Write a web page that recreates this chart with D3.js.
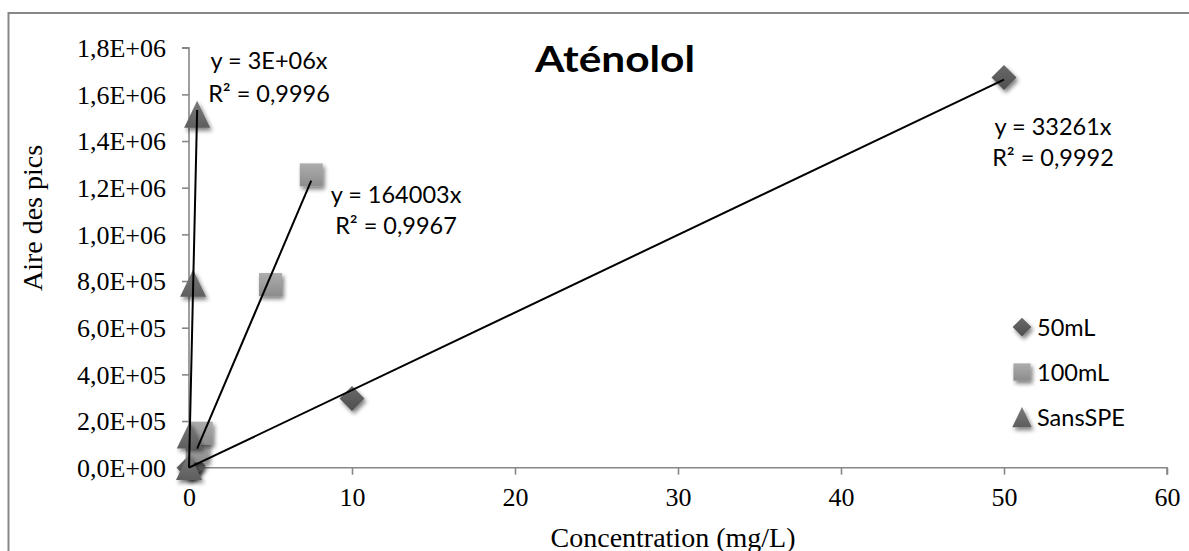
<!DOCTYPE html>
<html>
<head>
<meta charset="utf-8">
<script src="https://cdn.jsdelivr.net/npm/d3@7"></script>
<style>
  html, body { margin: 0; padding: 0; background: #fff; }
  svg { display: block; }
</style>
</head>
<body>
<svg id="chart" width="1189" height="551"></svg>
<script>
// ---- Data ----
const seriesNames = ["50mL", "100mL", "SansSPE"];
const conc50 = [0, 0.1, 0.25, 10, 50];
const area50 = [0, 3000, 8000, 297000, 1672000];
const conc100 = [0.5, 0.75, 5, 7.5];
const area100 = [72000, 148000, 785000, 1255000];
const concSans = [0, 0.05, 0.25, 0.5];
const areaSans = [5000, 140000, 790000, 1515000];
const trendSlopes = [33261, 164003, 3066000];
const trendEquations = ["y = 33261x", "y = 164003x", "y = 3E+06x"];
const trendR2 = ["R² = 0,9992", "R² = 0,9967", "R² = 0,9996"];
const xTicks = [0, 10, 20, 30, 40, 50, 60];
const yTicks = [0, 200000, 400000, 600000, 800000, 1000000, 1200000, 1400000, 1600000, 1800000];
const yTickLabels = ["0,0E+00", "2,0E+05", "4,0E+05", "6,0E+05", "8,0E+05", "1,0E+06", "1,2E+06", "1,4E+06", "1,6E+06", "1,8E+06"];
const chartTitle = "Aténolol";
const xTitle = "Concentration (mg/L)";
const yTitle = "Aire des pics";

// ---- Layout ----
const svg = d3.select("#chart");
const x = d3.scaleLinear().domain([0, 60]).range([189, 1167]);
const y = d3.scaleLinear().domain([0, 1800000]).range([467.7, 47.7]);
const serif = "'Liberation Serif', 'Times New Roman', serif";
const sans = "Lato, 'Open Sans', sans-serif";
const axisColor = "#878787";

const defs = svg.append("defs");
const f = defs.append("filter").attr("id", "shadow").attr("x", "-50%").attr("y", "-50%").attr("width", "200%").attr("height", "200%");
f.append("feGaussianBlur").attr("in", "SourceAlpha").attr("stdDeviation", 2).attr("result", "b");
f.append("feOffset").attr("in", "b").attr("dx", 1.5).attr("dy", 2.5).attr("result", "o");
f.append("feComponentTransfer").attr("in", "o").attr("result", "o2")
  .append("feFuncA").attr("type", "linear").attr("slope", 0.5);
const m = f.append("feMerge");
m.append("feMergeNode").attr("in", "o2");
m.append("feMergeNode").attr("in", "SourceGraphic");

function grad(id, c1, c2) {
  const g = defs.append("linearGradient").attr("id", id).attr("x1", 0).attr("y1", 0).attr("x2", 0).attr("y2", 1);
  g.append("stop").attr("offset", "0%").attr("stop-color", c1);
  g.append("stop").attr("offset", "100%").attr("stop-color", c2);
}
grad("g50", "#6a6a6a", "#4e4e4e");
grad("g100", "#adadad", "#8c8c8c");
grad("gSans", "#7a7a7a", "#5e5e5e");

// outer border
svg.append("rect").attr("x", 8.5).attr("y", 13).attr("width", 1200).attr("height", 560)
  .attr("fill", "none").attr("stroke", axisColor).attr("stroke-width", 2);

// ---- Axes ----
const yAxis = d3.axisLeft(y).tickValues(yTicks).tickSizeInner(7).tickSizeOuter(7).tickPadding(16)
  .tickFormat((d, i) => yTickLabels[i]);
const gy = svg.append("g").attr("transform", `translate(${x(0)},0)`).call(yAxis);
const xAxis = d3.axisBottom(x).tickValues(xTicks).tickSizeInner(7).tickSizeOuter(7).tickPadding(13);
const gx = svg.append("g").attr("transform", `translate(0,${y(0)})`).call(xAxis);
[gx, gy].forEach(g => {
  g.selectAll("path, line").attr("stroke", axisColor).attr("stroke-width", 1.6);
  g.selectAll("text").attr("fill", "#000").style("font-family", serif).style("font-size", "26px");
});
gx.select(".domain").attr("d", `M${x(0)},0H${x(60)}V7`);
gx.selectAll("text").attr("dy", "0.71em");
gy.select(".domain").attr("d", `M-7,${y(1800000)}H0V${y(0)}`);
gy.selectAll("text").attr("dy", "0.34em");

// axis titles
svg.append("text").attr("x", 673).attr("y", 546.5).attr("text-anchor", "middle")
  .style("font-family", serif).style("font-size", "28px").text(xTitle);
svg.append("text").attr("transform", "translate(41.5,218) rotate(-90)").attr("text-anchor", "middle")
  .style("font-family", serif).style("font-size", "28px").text(yTitle);

// chart title
svg.append("text").attr("x", 615).attr("y", 71.5).attr("text-anchor", "middle")
  .attr("textLength", 160).attr("lengthAdjust", "spacingAndGlyphs")
  .style("font-family", sans).style("font-weight", "700").style("font-size", "37px").text(chartTitle);

// ---- Markers ----
function drawMarker(g, type, cx, cy, scale) {
  const s = scale || 1;
  if (type === 0) {
    const r = 12.5 * s;
    g.append("path").attr("d", `M${cx},${cy - r}L${cx + r},${cy}L${cx},${cy + r}L${cx - r},${cy}Z`)
      .attr("fill", "url(#g50)").attr("filter", "url(#shadow)");
  } else if (type === 1) {
    const h = 11.5 * s;
    g.append("rect").attr("x", cx - h).attr("y", cy - h).attr("width", 2 * h).attr("height", 2 * h)
      .attr("fill", "url(#g100)").attr("filter", "url(#shadow)");
  } else {
    const hw = 13 * s, hh = 13.5 * s;
    g.append("path").attr("d", `M${cx},${cy - hh}L${cx + hw},${cy + hh}L${cx - hw},${cy + hh}Z`)
      .attr("fill", "url(#gSans)").attr("filter", "url(#shadow)");
  }
}
const series = [
  { xs: conc50, ys: area50 },
  { xs: conc100, ys: area100 },
  { xs: concSans, ys: areaSans }
];
const gm = svg.append("g");
series.forEach((s, si) => {
  s.xs.forEach((cx, i) => drawMarker(gm, si, x(cx), y(s.ys[i])));
});

// ---- Trendlines ----
const line = d3.line().x(d => x(d[0])).y(d => y(d[1]));
series.forEach((s, si) => {
  const x0 = d3.min(s.xs), x1 = d3.max(s.xs);
  svg.append("path").datum([[x0, trendSlopes[si] * x0], [x1, trendSlopes[si] * x1]])
    .attr("d", line).attr("stroke", "#000").attr("stroke-width", 2).attr("fill", "none");
});

// ---- Equation labels ----
const eqPos = [[1053, 135, 166], [396, 203.3, 234.3], [269, 69, 101.7]];
series.forEach((s, si) => {
  const [cx, b1, b2] = eqPos[si];
  svg.append("text").attr("x", cx).attr("y", b1).attr("text-anchor", "middle")
    .style("font-family", sans).style("font-size", "23.5px").text(trendEquations[si]);
  svg.append("text").attr("x", cx).attr("y", b2).attr("text-anchor", "middle")
    .style("font-family", sans).style("font-size", "23.5px").text(trendR2[si]);
});

// ---- Legend ----
const legendY = [327, 372, 417];
seriesNames.forEach((name, i) => {
  drawMarker(svg, i, 1022, legendY[i], 0.75);
  svg.append("text").attr("x", 1037).attr("y", legendY[i] + 8.5)
    .style("font-family", sans).style("font-size", "23.5px").text(name);
});
</script>
</body>
</html>
